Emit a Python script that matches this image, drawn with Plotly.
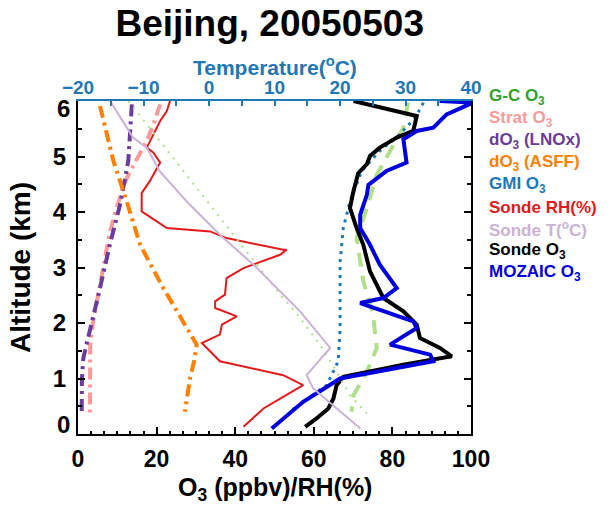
import plotly.graph_objects as go

# ---------------- data ----------------
strat_o3 = [20.9, 19.3, 17.5, 15.0, 13.0, 11.5, 9.5, 8.0, 6.4, 5.0, 3.8, 3.1, 3.05, 3.05]
strat_alt = [5.94, 5.6, 5.28, 4.95, 4.7, 4.45, 4.0, 3.6, 3.0, 2.5, 2.0, 1.6, 1.2, 0.37]

lnox_o3 = [13.7, 12.8, 10.7, 8.1, 5.6, 3.05, 1.35, 1.0, 0.94]
lnox_alt = [5.94, 4.92, 4.13, 3.41, 2.63, 1.91, 1.37, 1.0, 0.40]

asff_o3 = [5.6, 9.0, 12.4, 15.8, 21.7, 27.7, 30.2, 29.5, 28.5, 27.2]
asff_alt = [5.91, 4.92, 4.19, 3.41, 2.63, 1.91, 1.61, 1.3, 1.0, 0.40]

gc_o3 = [84.0, 82.8, 79.4, 76.0, 73.5, 70.9, 72.6, 75.1, 76.0, 73.5, 70.1, 69.6]
gc_alt = [5.97, 5.52, 5.10, 4.67, 4.07, 3.53, 2.75, 2.15, 1.55, 1.12, 0.70, 0.40]

gc_t = [-12.3, 11.3, 13.2, 17.0, 19.5, 21.5, 24.1]
gc_t_alt = [6.0, 2.45, 2.2, 1.6, 1.12, 0.70, 0.37]

gmi_o3 = [87.9, 85.8, 81.9, 76.8, 72.2, 69.2, 67.5, 66.7, 66.7, 66.7, 66.2, 63.3, 57.3, 53.9]
gmi_alt = [5.97, 5.70, 5.40, 5.10, 4.74, 4.19, 3.71, 3.11, 2.51, 1.91, 1.31, 0.88, 0.58, 0.40]

rh = [23.4, 22.6, 20.9, 18.7, 17.5, 19.2, 20.9, 18.3, 16.2, 16.2, 20.9, 22.6, 33.6, 37.8,
      52.2, 53.1, 51.4, 42.1, 37.8, 37.4, 34.9, 34.9, 40.4, 36.6, 36.1, 31.5, 35.3, 36.1,
      52.2, 57.3, 52.2, 47.2, 42.1]
rh_alt = [6.0, 5.82, 5.64, 5.34, 5.16, 5.07, 4.89, 4.56, 4.34, 4.01, 3.80, 3.71, 3.65, 3.53,
          3.32, 3.32, 3.23, 2.99, 2.81, 2.51, 2.39, 2.27, 2.12, 1.97, 1.79, 1.64, 1.37, 1.31,
          1.06, 0.88, 0.67, 0.46, 0.13]

sonde_t = [-15.1, -11.6, -9.5, -7.5, -3.4, 2.2, 6.8, 11.4, 13.9, 18.5, 14.9, 15.9, 23.1]
sonde_t_alt = [6.0, 5.34, 5.16, 4.73, 4.19, 3.53, 3.05, 2.51, 2.21, 1.55, 1.06, 0.82, 0.10]

sonde_o3 = [70.1, 86.2, 85.3, 81.1, 76.8, 74.3, 73.5, 71.3, 70.1, 69.2, 70.9, 72.6, 74.3,
            77.7, 82.8, 86.2, 87.0, 92.1, 95.1, 82.8, 67.5, 65.8, 65.0, 63.7, 60.7, 57.8]
sonde_o3_alt = [6.0, 5.73, 5.46, 5.34, 5.16, 5.01, 4.86, 4.70, 4.38, 4.07, 3.71, 3.41, 2.93,
                2.45, 2.21, 1.97, 1.73, 1.55, 1.40, 1.25, 1.03, 0.88, 0.64, 0.46, 0.28, 0.13]

mozaic_o3 = [92.0, 100.5, 93.8, 90.4, 86.2, 82.8, 83.6, 78.5, 73.9, 73.5, 71.8, 71.8, 74.3,
             76.8, 81.1, 77.7, 71.8, 85.3, 86.2, 79.4, 89.6, 90.4, 66.7, 57.3, 49.3]
mozaic_alt = [6.0, 5.97, 5.76, 5.52, 5.46, 5.31, 4.89, 4.74, 4.49, 4.31, 3.95, 3.71, 3.41,
              3.05, 2.63, 2.45, 2.36, 2.03, 1.91, 1.61, 1.43, 1.31, 1.0, 0.58, 0.10]

o3_ticks = [0, 20, 40, 60, 80, 100]
t_ticks = [-20, -10, 0, 10, 20, 30, 40]
alt_ticks = [0, 1, 2, 3, 4, 5, 6]

legend_items = ["G-C O<sub>3</sub>", "Strat O<sub>3</sub>", "dO<sub>3</sub> (LNOx)",
                "dO<sub>3</sub> (ASFF)", "GMI O<sub>3</sub>", "Sonde RH(%)",
                "Sonde T(<sup>o</sup>C)", "Sonde O<sub>3</sub>", "MOZAIC O<sub>3</sub>"]
legend_colors = ["#33a02c", "#fb9a99", "#6a3d9a", "#ff7f00", "#1f78b4", "#e31a1c",
                 "#cab2d6", "#000000", "#0000dd"]

FONT = "Liberation Sans, Arial, sans-serif"

fig = go.Figure()

def add(x, y, color, width, dash="solid", top=False):
    fig.add_trace(go.Scatter(x=x, y=y, mode="lines", xaxis="x2" if top else "x",
                             line=dict(color=color, width=width, dash=dash),
                             showlegend=False, hoverinfo="skip"))

add(gc_t, gc_t_alt, "#b2df8a", 2, "2px,6px", top=True)
add(gc_o3, gc_alt, "#b2df8a", 4, "14px,9px")
add(strat_o3, strat_alt, "#fb9a99", 4, "12px,5px,3px,5px")
add(lnox_o3, lnox_alt, "#6a3d9a", 4, "12px,5px,3px,5px")
add(asff_o3, asff_alt, "#ff7f00", 4, "12px,5px,3px,5px")
add(gmi_o3, gmi_alt, "#1f78b4", 3, "3px,5px")
add(rh, rh_alt, "#e31a1c", 2)
add(sonde_t, sonde_t_alt, "#cab2d6", 2, top=True)
add(sonde_o3, sonde_o3_alt, "#000000", 4)
add(mozaic_o3, mozaic_alt, "#0000dd", 4)

bold = dict(family=FONT, weight="bold")
BLUE = "#1f78b4"

fig.update_layout(
    width=613, height=505,
    margin=dict(l=78, r=142, t=101, b=71),
    plot_bgcolor="white", paper_bgcolor="white",
    title=dict(text="Beijing, 20050503", x=0.44, xanchor="center", y=0.955, yanchor="middle",
               font=dict(size=37, color="black", **bold)),
    xaxis=dict(range=[0, 100], tickvals=o3_ticks, showgrid=False, zeroline=False,
               automargin=False,
               showline=True, linecolor="black", linewidth=2, mirror=False,
               ticks="inside", ticklen=7, tickwidth=1.5, tickcolor="black",
               minor=dict(dtick=20 / 6, ticks="inside", ticklen=3, tickcolor="black"),
               ticklabelstandoff=3,
               tickfont=dict(size=23, color="black", **bold)),
    xaxis2=dict(range=[-20, 40], overlaying="x", side="top", anchor="y",
                automargin=False,
                tickvals=t_ticks, showgrid=False, zeroline=False,
                showline=True, linecolor=BLUE, linewidth=2,
                ticks="inside", ticklen=5, tickwidth=1.5, tickcolor=BLUE,
                minor=dict(dtick=5, ticks="inside", ticklen=5, tickcolor=BLUE),
                ticklabelstandoff=-3,
                tickfont=dict(size=19, color=BLUE, **bold)),
    yaxis=dict(range=[0, 6], tickvals=alt_ticks,
               ticktext=["", "1", "2", "3", "4", "5", ""],
               automargin=False,
               showgrid=False, zeroline=False,
               showline=True, linecolor="black", linewidth=2, mirror="ticks",
               ticks="inside", ticklen=7, tickwidth=1.5, tickcolor="black",
               minor=dict(dtick=0.5, ticks="inside", ticklen=4, tickcolor="black"),
               ticklabelstandoff=5,
               tickfont=dict(size=24, color="black", **bold),
               title=dict(text="Altitude (km)", standoff=14,
                          font=dict(size=28, color="black", **bold))),
)

# top axis title
fig.add_annotation(x=0.5, xref="paper", xanchor="center", y=(434 - 66) / 333, yref="paper",
                   yanchor="middle", text="Temperature(<sup>o</sup>C)", showarrow=False,
                   font=dict(size=21, color=BLUE, **bold))

# bottom axis title
fig.add_annotation(x=0.5, xref="paper", xanchor="center", y=(434 - 489) / 333, yref="paper",
                   yanchor="middle", text="O<sub>3</sub> (ppbv)/RH(%)", showarrow=False,
                   font=dict(size=25, color="black", **bold))

# edge y tick labels nudged inward as in the reference
for val, yy in [(0, 0.18), (6, 5.87)]:
    fig.add_annotation(x=0, xref="paper", xanchor="right", xshift=-6, y=yy, yref="y",
                       yanchor="middle", text=str(val), showarrow=False,
                       font=dict(size=24, color="black", **bold))

# text-only legend
for i, (txt, col) in enumerate(zip(legend_items, legend_colors)):
    py = 97 + i * 22
    fig.add_annotation(x=(487 - 78) / 393, xref="paper", xanchor="left",
                       y=(434 - py) / 333, yref="paper", yanchor="middle",
                       text=txt, showarrow=False,
                       font=dict(size=17, color=col, **bold))

fig.write_html("out.html")
